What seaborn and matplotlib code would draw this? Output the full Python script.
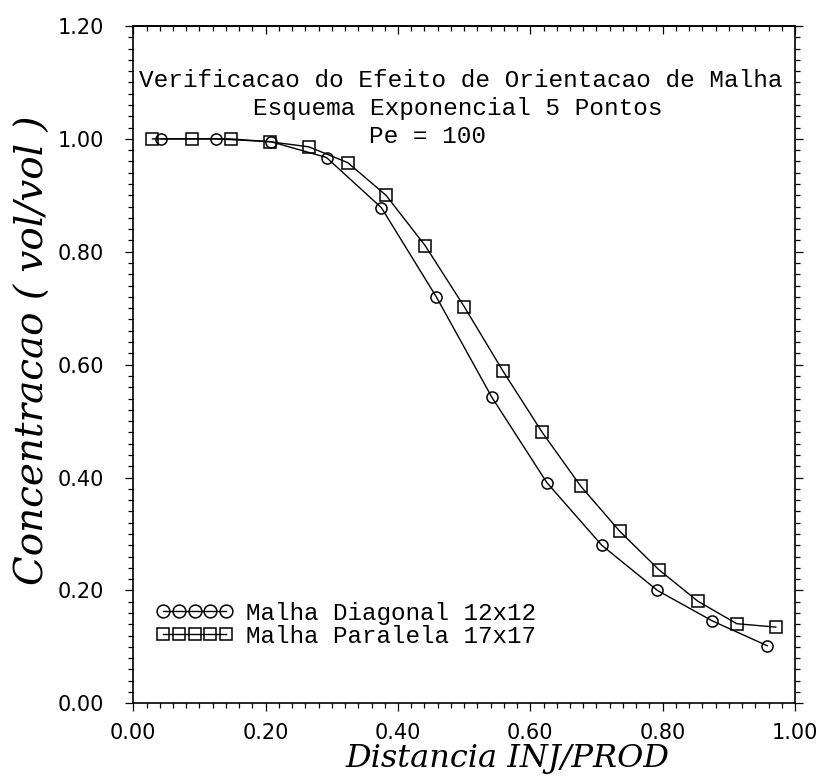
import matplotlib
matplotlib.use("Agg")
import matplotlib.pyplot as plt
import numpy as np
import pandas as pd
import seaborn as sns
from matplotlib.ticker import MultipleLocator, FormatStrFormatter
from matplotlib.font_manager import FontProperties

# ---- data ----
diag_x = [0.042, 0.125, 0.208, 0.292, 0.375, 0.458, 0.542, 0.625, 0.708, 0.792, 0.875, 0.958]
diag_y = [1.000, 1.000, 0.995, 0.967, 0.878, 0.720, 0.542, 0.391, 0.280, 0.200, 0.146, 0.102]
par_x = [0.029, 0.088, 0.147, 0.206, 0.265, 0.324, 0.382, 0.441, 0.500, 0.559, 0.618,
         0.676, 0.735, 0.794, 0.853, 0.912, 0.971]
par_y = [1.000, 1.000, 1.000, 0.995, 0.986, 0.958, 0.900, 0.811, 0.703, 0.588, 0.480,
         0.385, 0.305, 0.237, 0.181, 0.141, 0.135]
series_labels = ["Malha Diagonal 12x12", "Malha Paralela 17x17"]
title_lines = ["Verificacao do Efeito de Orientacao de Malha",
               "Esquema Exponencial 5 Pontos",
               "Pe = 100"]
x_label = "Distancia INJ/PROD"
y_label = "Concentracao ( vol/vol )"
x_ticks = [0.0, 0.2, 0.4, 0.6, 0.8, 1.0]
y_ticks = [0.0, 0.2, 0.4, 0.6, 0.8, 1.0, 1.2]

df = pd.concat([
    pd.DataFrame({"x": diag_x, "y": diag_y, "serie": series_labels[0]}),
    pd.DataFrame({"x": par_x, "y": par_y, "serie": series_labels[1]}),
], ignore_index=True)

fig = plt.figure(figsize=(8.18, 7.8), dpi=100)
ax = fig.add_axes([133.3 / 818, 1 - 703.3 / 780, (795 - 133.3) / 818, (703.3 - 26) / 780])

sns.lineplot(data=df, x="x", y="y", style="serie", markers=["o", "s"], dashes=False,
             color="black", linewidth=1.0, markersize=8, markerfacecolor="none",
             markeredgecolor="black", markeredgewidth=1.1, sort=False,
             estimator=None, legend=False, ax=ax)

ax.set_xlim(0, 1.0)
ax.set_ylim(0, 1.2)
ax.set_xticks(x_ticks)
ax.set_yticks(y_ticks)
ax.xaxis.set_minor_locator(MultipleLocator(0.02))
ax.yaxis.set_minor_locator(MultipleLocator(0.02))
ax.xaxis.set_major_formatter(FormatStrFormatter("%.2f"))
ax.yaxis.set_major_formatter(FormatStrFormatter("%.2f"))
ax.set_xlabel("")
ax.set_ylabel("")

for s in ax.spines.values():
    s.set_linewidth(1.2)

tick_font = dict(labelsize=15)
ax.tick_params(axis="x", which="both", direction="out", top=False, bottom=True, width=0.9)
ax.tick_params(axis="x", which="major", length=6, pad=8, **tick_font)
ax.tick_params(axis="x", which="minor", length=3.5)
ax.tick_params(axis="y", which="both", direction="out", left=True, right=True, width=0.9)
ax.tick_params(axis="y", which="major", length=6, pad=15, **tick_font)
ax.tick_params(axis="y", which="minor", length=3.5)
for lab in ax.get_xticklabels() + ax.get_yticklabels():
    lab.set_family("DejaVu Sans")

top = ax.secondary_xaxis("top")
top.set_xticks(x_ticks)
top.xaxis.set_minor_locator(MultipleLocator(0.02))
top.tick_params(axis="x", which="both", direction="in", labeltop=False, width=0.9)
top.tick_params(axis="x", which="major", length=6)
top.tick_params(axis="x", which="minor", length=3.5)
top.spines["top"].set_linewidth(1.2)

mono = "Liberation Mono"
tfs = 17.6
ax.text(0.008, 1.0914, title_lines[0], family=mono, fontsize=tfs, ha="left", va="baseline")
ax.text(0.181, 1.0424, title_lines[1], family=mono, fontsize=tfs, ha="left", va="baseline")
ax.text(0.356, 0.992, title_lines[2], family=mono, fontsize=tfs, ha="left", va="baseline")

handles = ax.get_lines()[:2]
ax.legend(handles, series_labels, loc="upper left", bbox_to_anchor=(0.034, 0.150),
          bbox_transform=ax.transAxes, numpoints=5, handlelength=3.2, handletextpad=0.5,
          labelspacing=0.0, frameon=False, borderpad=0, borderaxespad=0, markerscale=1.15,
          prop=FontProperties(family=mono, size=17.5))

fig.text(507 / 818, 1 - 767 / 780, x_label, family="DejaVu Serif", style="italic",
         fontsize=23, ha="center", va="baseline")
fig.text(33 / 818, 1 - 350 / 780, y_label, family="DejaVu Serif", style="italic",
         fontsize=28, ha="center", va="center", rotation=90)

fig.savefig("out.png", dpi=100)
